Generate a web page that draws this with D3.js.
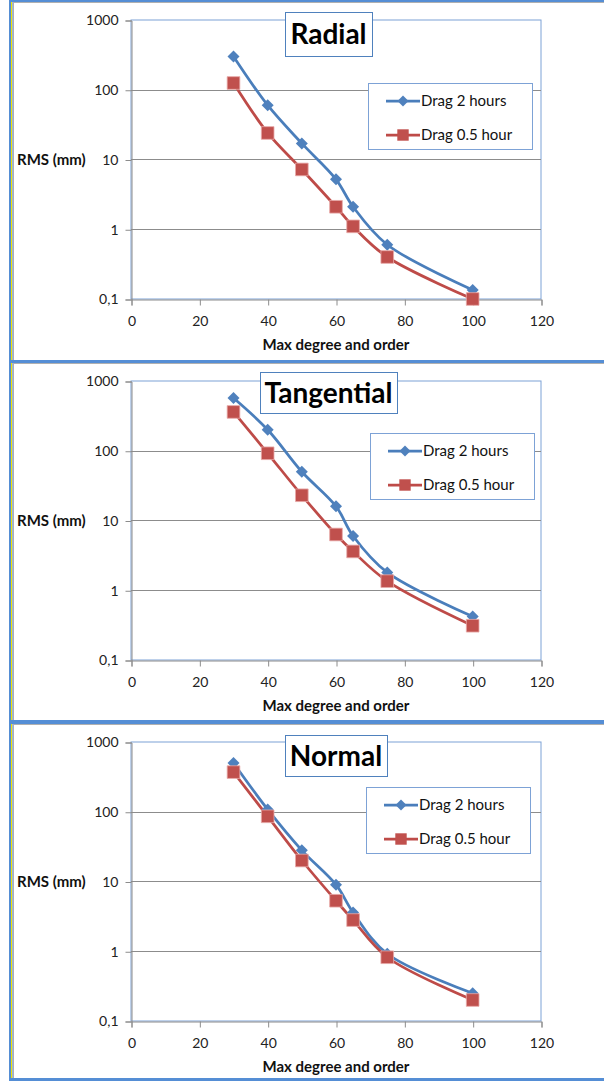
<!DOCTYPE html>
<html lang="en">
<head>
  <meta charset="UTF-8">
  <title>RMS vs max degree and order</title>
  <script src="https://d3js.org/d3.v7.min.js"></script>
  <style>
    body {
      margin: 0;
      background: #fff;
      font-family: Lato, "Open Sans", Arial, sans-serif;
    }
    svg { display: block; }
    .tick text { font-size: 14px; fill: #222; font-family: Lato, Arial, sans-serif; }
  </style>
</head>
<body>
<svg width="604" height="1081"></svg>

<script>
  // data
  const degrees = [30, 40, 50, 60, 65, 75, 100];
  const radial2h = [300, 60, 17, 5.2, 2.1, 0.6, 0.135];
  const radial05h = [125, 24, 7.2, 2.1, 1.1, 0.4, 0.1];
  const tangential2h = [570, 200, 50, 16, 6, 1.8, 0.42];
  const tangential05h = [360, 92, 23, 6.3, 3.6, 1.35, 0.31];
  const normal2h = [500, 108, 28, 9, 3.6, 0.92, 0.25];
  const normal05h = [370, 86, 20, 5.3, 2.8, 0.82, 0.2];

  const seriesNames = ["Drag 2 hours", "Drag 0.5 hour"];
  const yTicks = [0.1, 1, 10, 100, 1000];
  const xTicks = [0, 20, 40, 60, 80, 100, 120];

  const panels = [
    { title: "Radial", top: 0, a: radial2h, b: radial05h,
      titleBox: [285, 12, 87, 44], legend: [368, 83] },
    { title: "Tangential", top: 361, a: tangential2h, b: tangential05h,
      titleBox: [260, 11, 137, 41], legend: [370, 72] },
    { title: "Normal", top: 722, a: normal2h, b: normal05h,
      titleBox: [285, 13, 102, 41], legend: [366, 65] }
  ];

  const blue = "#4A7EBB", blueMark = "#4F81BD";
  const red = "#BE4B48", redMark = "#C0504D";
  const frameBlue = "#558ED5";

  const svg = d3.select("svg");

  const x = d3.scaleLinear().domain([0, 120]).range([131, 541]);
  const y = d3.scaleLog().domain([0.1, 1000]).range([299, 20]);

  const line = d3.line()
    .x((d, i) => x(degrees[i]))
    .y(d => y(d))
    .curve(d3.curveCatmullRom.alpha(0.5));

  panels.forEach(p => {
    const g = svg.append("g").attr("transform", `translate(0,${p.top})`);

    // plot area border
    g.append("rect")
      .attr("x", x(0)).attr("y", y(1000))
      .attr("width", x(120) - x(0)).attr("height", y(0.1) - y(1000))
      .attr("fill", "none").attr("stroke", "#7DA2D6").attr("stroke-width", 1);

    // gridlines
    g.selectAll(".grid")
      .data([1, 10, 100])
      .join("line")
      .attr("x1", x(0)).attr("x2", x(120))
      .attr("y1", d => Math.round(y(d)) + 0.5).attr("y2", d => Math.round(y(d)) + 0.5)
      .attr("stroke", "#8c8c8c");

    // axes
    const yAxis = g.append("g")
      .attr("transform", `translate(${x(0) + 0.5},0.5)`)
      .call(d3.axisLeft(y).tickValues(yTicks).tickSize(6).tickPadding(7)
        .tickFormat(d => d === 0.1 ? "0,1" : d));
    const xAxis = g.append("g")
      .attr("transform", `translate(0.5,${y(0.1) + 0.5})`)
      .call(d3.axisBottom(x).tickValues(xTicks).tickSize(6).tickPadding(11));
    [yAxis, xAxis].forEach(ax => {
      ax.select(".domain").attr("stroke", "#8c8c8c");
      ax.selectAll(".tick line").attr("stroke", "#8c8c8c");
      ax.attr("font-size", null).attr("font-family", null);
    });

    // axis titles
    g.append("text")
      .attr("x", 17).attr("y", y(10) + 5)
      .attr("font-size", 15).attr("font-weight", "bold").attr("fill", "#111")
      .text("RMS (mm)");
    g.append("text")
      .attr("x", 336).attr("y", 350)
      .attr("text-anchor", "middle")
      .attr("font-size", 15).attr("font-weight", "bold").attr("fill", "#111")
      .text("Max degree and order");

    // series
    const series = [
      { vals: p.a, color: blue, mark: blueMark, shape: "diamond" },
      { vals: p.b, color: red, mark: redMark, shape: "square" }
    ];
    series.forEach(s => {
      g.append("path")
        .datum(s.vals)
        .attr("d", line)
        .attr("fill", "none")
        .attr("stroke", s.color)
        .attr("stroke-width", 2.75);
    });
    series.forEach(s => {
      const sym = s.shape === "diamond"
        ? d3.symbol().type(d3.symbolSquare).size(72)
        : d3.symbol().type(d3.symbolSquare).size(160);
      g.selectAll(null)
        .data(s.vals)
        .join("path")
        .attr("d", sym)
        .attr("transform", (d, i) => `translate(${x(degrees[i])},${y(d)})` + (s.shape === "diamond" ? " rotate(45)" : ""))
        .attr("fill", s.mark)
        .attr("stroke", s.shape === "square" ? "#e8a9a8" : "none")
        .attr("stroke-width", 0.8);
    });

    // title box
    const [tx, ty, tw, th] = p.titleBox;
    g.append("rect")
      .attr("x", tx + 0.5).attr("y", ty + 0.5).attr("width", tw).attr("height", th)
      .attr("fill", "#fff").attr("stroke", "#4F81BD").attr("stroke-width", 1);
    g.append("text")
      .attr("x", tx + tw / 2).attr("y", ty + th / 2 + 10)
      .attr("text-anchor", "middle")
      .attr("font-size", 28).attr("font-weight", "bold").attr("fill", "#000")
      .text(p.title);

    // legend
    const [lx, ly] = p.legend;
    const lg = g.append("g").attr("transform", `translate(${lx},${ly})`);
    lg.append("rect")
      .attr("x", 0.5).attr("y", 0.5).attr("width", 164).attr("height", 66)
      .attr("fill", "#fff").attr("stroke", "#7DA2D6");
    series.forEach((s, i) => {
      const cy = 18 + i * 34;
      lg.append("line")
        .attr("x1", 18).attr("x2", 52).attr("y1", cy).attr("y2", cy)
        .attr("stroke", s.color).attr("stroke-width", 2.75);
      const sym = s.shape === "diamond"
        ? d3.symbol().type(d3.symbolSquare).size(60)
        : d3.symbol().type(d3.symbolSquare).size(130);
      lg.append("path")
        .attr("d", sym)
        .attr("transform", `translate(35,${cy})` + (s.shape === "diamond" ? " rotate(45)" : ""))
        .attr("fill", s.mark);
      lg.append("text")
        .attr("x", 53).attr("y", cy + 5)
        .attr("font-size", 15).attr("fill", "#111")
        .text(seriesNames[i]);
    });
  });

  // outer frames of the three chart objects
  const frame = svg.append("g");
  frame.append("rect").attr("x", 9).attr("y", 0).attr("width", 3).attr("height", 1081).attr("fill", frameBlue);
  frame.append("rect").attr("x", 11).attr("y", 0).attr("width", 1).attr("height", 1081).attr("fill", "#f2e600");
  frame.append("rect").attr("x", 12).attr("y", 0).attr("width", 1).attr("height", 1081).attr("fill", "#9db7e0");
  frame.append("rect").attr("x", 13).attr("y", 3).attr("width", 1).attr("height", 1075).attr("fill", "#b0b0b0");
  [[0, 2], [360, 3], [720, 4], [1078, 3]].forEach(([yy, h]) => {
    frame.append("rect").attr("x", 9).attr("y", yy).attr("width", 595).attr("height", h).attr("fill", frameBlue);
    if (yy < 1078) {
      frame.append("rect").attr("x", 13).attr("y", yy + h).attr("width", 591).attr("height", 1).attr("fill", "#b0b0b0");
    }
  });
</script>

</body>
</html>
